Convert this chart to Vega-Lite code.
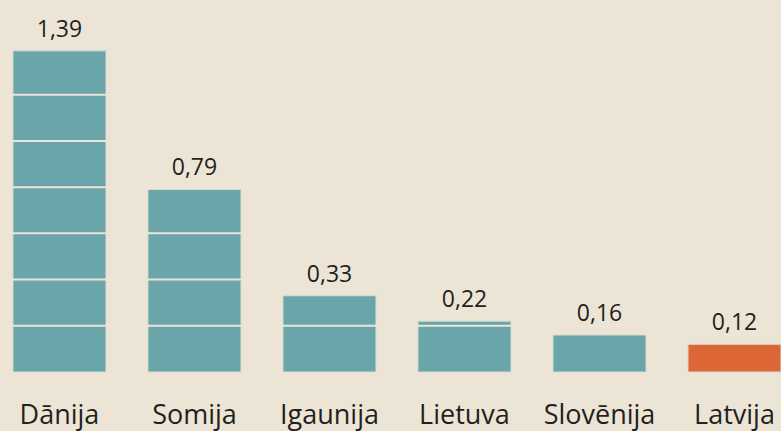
{
  "$schema": "https://vega.github.io/schema/vega-lite/v6.json",
  "autosize": "none",
  "padding": {"left": 0, "top": 0, "right": 0, "bottom": 59},
  "width": 781,
  "height": 372,
  "background": "#ece5d6",
  "config": {"view": {"stroke": null}, "font": "Open Sans"},
  "datasets": {
    "bars": [
      {"country": "Dānija", "value": 1.39, "label": "1,39", "hl": "no"},
      {"country": "Somija", "value": 0.79, "label": "0,79", "hl": "no"},
      {"country": "Igaunija", "value": 0.33, "label": "0,33", "hl": "no"},
      {"country": "Lietuva", "value": 0.22, "label": "0,22", "hl": "no"},
      {"country": "Slovēnija", "value": 0.16, "label": "0,16", "hl": "no"},
      {"country": "Latvija", "value": 0.12, "label": "0,12", "hl": "yes"}
    ],
    "grid": [{"g": 0.2}, {"g": 0.4}, {"g": 0.6}, {"g": 0.8}, {"g": 1.0}, {"g": 1.2}]
  },
  "layer": [
    {
      "data": {"name": "bars"},
      "mark": {"type": "bar", "stroke": "#d9dccf", "strokeWidth": 1},
      "encoding": {
        "x": {"field": "country", "type": "nominal", "sort": null,
          "scale": {"paddingInner": 0.311, "paddingOuter": 0.048, "align": 1},
          "axis": {"title": null, "domain": false, "ticks": false, "labelAngle": 0,
            "labelFontSize": 27, "labelColor": "#231f20", "labelFont": "Open Sans",
            "labelBaseline": "alphabetic", "labelPadding": 51}},
        "y": {"field": "value", "type": "quantitative",
          "scale": {"domain": [0, 1.61], "nice": false, "zero": true},
          "axis": null},
        "color": {"field": "hl", "type": "nominal",
          "scale": {"domain": ["no", "yes"], "range": ["#6aa5a9", "#dd6636"]},
          "legend": null}
      }
    },
    {
      "data": {"name": "grid"},
      "mark": {"type": "rule", "color": "#ebe6d9", "strokeWidth": 2},
      "encoding": {
        "y": {"field": "g", "type": "quantitative"}
      }
    },
    {
      "data": {"name": "bars"},
      "mark": {"type": "text", "baseline": "alphabetic", "dy": -14, "fontSize": 23, "color": "#231f20", "font": "Open Sans"},
      "encoding": {
        "x": {"field": "country", "type": "nominal", "sort": null},
        "y": {"field": "value", "type": "quantitative"},
        "text": {"field": "label"}
      }
    }
  ]
}
